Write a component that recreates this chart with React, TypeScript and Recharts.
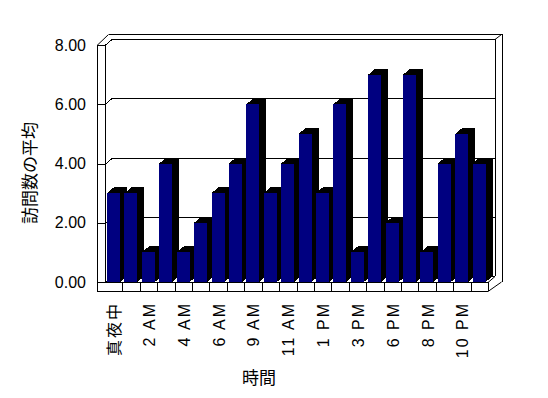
import React from "react";
import { BarChart, Bar, XAxis, YAxis, CartesianGrid } from "recharts";

// hourly average visits
const hours: string[] = [
  "真夜中", "1 AM", "2 AM", "3 AM", "4 AM", "5 AM", "6 AM", "7 AM", "9 AM", "10 AM", "11 AM",
  "12 PM", "1 PM", "2 PM", "3 PM", "4 PM", "6 PM", "7 PM", "8 PM", "9 PM", "10 PM", "11 PM",
];
const visits: number[] = [3, 3, 1, 4, 1, 2, 3, 4, 6, 3, 4, 5, 3, 6, 1, 7, 2, 7, 1, 4, 5, 4];
const yTicks: number[] = [0, 2, 4, 6, 8];

const data = hours.map((hour, i) => ({ hour, visits: visits[i] }));

// frame geometry (px)
const W = 548;
const H = 398;
const L = 105;
const R = 488;
const T = 45;
const B = 282;
const DX = 7; // bar / wall depth
const DY = 6;
const WALL = 8; // left wall thickness
const OUT_X = R + 13.5;
const OUT_Y = T - 11;
const PLOT_W = R - L;

const FONT = "'Liberation Sans', Arial, 'Noto Sans CJK JP', sans-serif";
const JP = "'Noto Sans CJK JP', sans-serif";

const Bar3D = (p: any) => {
  const { x, y, width, height } = p;
  if (!height || height <= 0) return null;
  const side = `M${x + width},${y} L${x + width + DX},${y - DY} L${x + width + DX},${y + height - DY} L${x + width},${y + height} Z`;
  const top = `M${x},${y} L${x + DX},${y - DY} L${x + width + DX},${y - DY} L${x + width},${y} Z`;
  return (
    <g shapeRendering="crispEdges">
      <path d={side} fill="#000" />
      <path d={top} fill="#000" />
      <rect x={x} y={y} width={width} height={height} fill="#000080" />
    </g>
  );
};

const gridLine = (p: any) => {
  const { x1, x2, y1, key } = p;
  const y = Math.round(y1) + 0.5;
  return (
    <path
      key={key}
      d={`M${x1 - WALL},${y} L${x1},${y} L${x1 + DX},${y - DY} L${x2 + DX},${y - DY}`}
      stroke="#000"
      fill="none"
      shapeRendering="crispEdges"
    />
  );
};

const XTick = (p: any) => {
  const { x, y, index, payload } = p;
  const band = PLOT_W / hours.length;
  const bx = Math.round(x + band / 2) + 0.5;
  return (
    <g>
      {index < hours.length - 1 && (
        <line x1={bx} x2={bx} y1={y} y2={y + 9} stroke="#000" shapeRendering="crispEdges" />
      )}
      {index % 2 === 0 && (
        <text
          transform={`translate(${x + 1},${y + 20}) rotate(-90)`}
          textAnchor="end"
          dominantBaseline="central"
          fontSize={16}
          letterSpacing={2}
          fontFamily={FONT}
          fill="#000000"
          style={{ fill: "#000000" }}
        >
          {payload.value}
        </text>
      )}
    </g>
  );
};

export default function App() {
  const s = { stroke: "#000", shapeRendering: "crispEdges" as const };
  return (
    <div style={{ position: "absolute", left: 0, top: 0, width: W, height: H, background: "#fff" }}>
      <svg width={W} height={H} style={{ position: "absolute", left: 0, top: 0 }}>
        {/* left wall */}
        <line x1={L - WALL + 0.5} y1={T} x2={L - WALL + 0.5} y2={B + 9} {...s} />
        <line x1={L + 0.5} y1={T} x2={L + 0.5} y2={B} {...s} />
        <line x1={L - WALL} y1={T + 0.5} x2={L - WALL + 11.5} y2={OUT_Y + 0.5} stroke="#000" />
        {/* back wall outer edges */}
        <line x1={L - WALL + 11.5} y1={OUT_Y + 0.5} x2={OUT_X} y2={OUT_Y + 0.5} {...s} />
        <line x1={R + DX} y1={T - DY + 0.5} x2={OUT_X} y2={OUT_Y + 0.5} stroke="#000" />
        <line x1={R + DX + 0.5} y1={T - DY} x2={R + DX + 0.5} y2={B - DY} {...s} />
        <line x1={OUT_X + 0.5} y1={OUT_Y} x2={OUT_X + 0.5} y2={B} {...s} />
        {/* floor */}
        <line x1={L - WALL} y1={B + 0.5} x2={R} y2={B + 0.5} {...s} />
        <line x1={L - WALL} y1={B + 9.5} x2={R} y2={B + 9.5} {...s} />
        <line x1={R + 0.5} y1={B} x2={R + 0.5} y2={B + 9} {...s} />
        <line x1={R} y1={B + 9.5} x2={OUT_X} y2={B} stroke="#000" />
        <line x1={R} y1={B + 0.5} x2={R + DX} y2={B - DY + 0.5} stroke="#000" />
        {/* titles */}
        <text
          transform="translate(28,173) rotate(-90)"
          textAnchor="middle"
          dominantBaseline="central"
          fontSize={17}
          fontFamily={JP}
          fill="#000"
        >
          訪問数の平均
        </text>
        <text x={259} y={376} textAnchor="middle" dominantBaseline="central" fontSize={17} fontFamily={JP} fill="#000">
          時間
        </text>
      </svg>
      <div style={{ position: "absolute", left: 0, top: 0 }}>
        <BarChart
          width={W}
          height={H}
          data={data}
          margin={{ top: T, right: W - R, bottom: H - B - 90, left: 0 }}
          barCategoryGap="12%"
        >
          <CartesianGrid vertical={false} horizontal={gridLine} />
          <XAxis
            dataKey="hour"
            interval={0}
            axisLine={false}
            tickLine={false}
            tickSize={0}
            tickMargin={0}
            height={90}
            tick={XTick}
          />
          <YAxis
            type="number"
            domain={[0, 8]}
            ticks={yTicks}
            width={L}
            axisLine={false}
            tickLine={false}
            tickSize={0}
            tickMargin={19}
            tickFormatter={(v: number) => v.toFixed(2)}
            tick={{ fontSize: 16, fill: "#000", fontFamily: FONT }}
          />
          <Bar dataKey="visits" shape={Bar3D} isAnimationActive={false} />
        </BarChart>
      </div>
    </div>
  );
}
